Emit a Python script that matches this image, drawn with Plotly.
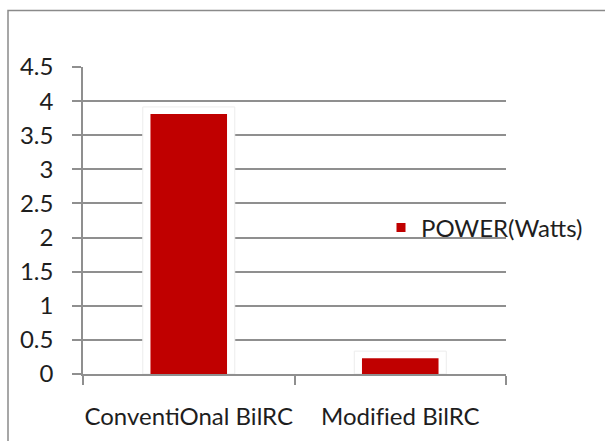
import plotly.graph_objects as go

categories = ["ConventiOnal BilRC", "Modif\u200cied BilRC"]
power_watts = [3.81, 0.23]
series_name = "POWER(Watts)"
y_ticks = [0, 0.5, 1, 1.5, 2, 2.5, 3, 3.5, 4, 4.5]

RED = "#C00000"
GRID = "#8f8f8f"
FONT = "Lato"
TXT = "#1e1e1e"
FS = 24

# plot area in pixels
W, H = 605, 441
L, R, T, B = 83, 99, 67, 67
pw, ph = W - L - R, H - T - B

fig = go.Figure()
# soft white "glow" behind each bar
fig.add_trace(go.Bar(
    x=categories, y=[v + 0.105 for v in power_watts], width=0.435,
    marker=dict(color="white", line=dict(color="#ececec", width=1)),
    showlegend=False, hoverinfo="skip"))
fig.add_trace(go.Bar(
    x=categories, y=power_watts, width=0.362, name=series_name,
    marker=dict(color=RED, line=dict(width=0)), showlegend=False))
# legend entry with small square
fig.add_trace(go.Scatter(
    x=[None], y=[None], mode="markers", name=series_name,
    marker=dict(symbol="square", size=9, color=RED), showlegend=True))

def px_to_paper_x(px):
    return (px - L) / pw

def px_to_paper_y(py):
    return (H - B - py) / ph

fig.add_shape(type="rect", xref="paper", yref="paper",
              x0=px_to_paper_x(8), x1=px_to_paper_x(620),
              y0=px_to_paper_y(460), y1=px_to_paper_y(10.5),
              line=dict(color="#8a8a8a", width=1.5), fillcolor="rgba(0,0,0,0)",
              layer="below")

fig.update_layout(
    width=W, height=H,
    margin=dict(l=L, r=R, t=T, b=B, autoexpand=False),
    paper_bgcolor="white", plot_bgcolor="white",
    barmode="overlay",
    font=dict(family=FONT, size=FS, color=TXT),
    legend=dict(x=px_to_paper_x(381), y=px_to_paper_y(228),
                xanchor="left", yanchor="middle",
                bgcolor="rgba(0,0,0,0)", font=dict(family=FONT, size=FS, color=TXT),
                itemwidth=30),
    xaxis=dict(type="category", showgrid=False, tickson="boundaries",
               ticks="outside", ticklen=9, tickwidth=1.5, tickcolor=GRID,
               showline=True, linecolor=GRID, linewidth=1.5,
               ticklabelstandoff=20, zeroline=False, tickangle=0,
               tickfont=dict(family=FONT, size=FS, color=TXT)),
    yaxis=dict(range=[0, 4.5], tickvals=y_ticks,
               ticktext=[f"{v:g}" for v in y_ticks],
               showgrid=True, gridcolor=GRID, gridwidth=1.5,
               ticks="outside", ticklen=9, tickwidth=1.5, tickcolor=GRID,
               showline=True, linecolor=GRID, linewidth=1.5,
               zeroline=False, ticklabelstandoff=14,
               tickfont=dict(family=FONT, size=FS, color=TXT)),
)

fig.write_html("out.html")
